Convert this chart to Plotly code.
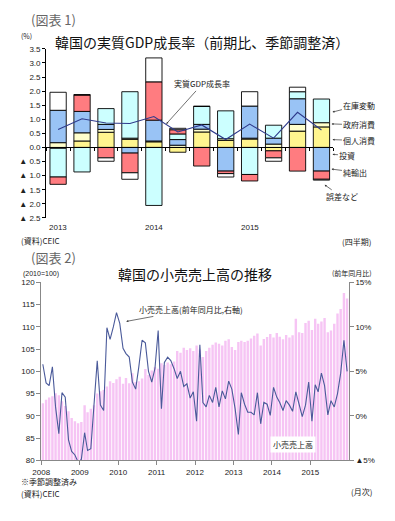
import plotly.graph_objects as go

W, H = 395, 521
def px(x): return x / W
def py(y): return 1 - y / H

JP = "Noto Sans CJK JP"
NUM = "Liberation Sans, Noto Sans CJK JP"

# ---------------- Chart 1 data (quarterly contributions, %) ----------------
quarters = ["2013Q1", "2013Q2", "2013Q3", "2013Q4", "2014Q1", "2014Q2",
            "2014Q3", "2014Q4", "2015Q1", "2015Q2", "2015Q3", "2015Q4"]
year_labels = ["2013", "2014", "2015"]
consumption = [-0.03, 0.23, 0.54, 0.29, 0.20, -0.17, 0.55, 0.25, 0.30, -0.12, 0.58, 0.73]
government  = [0.17, 0.29, 0.10, 0.04, 0.03, 0.08, 0.10, 0.06, 0.03, 0.12, 0.24, 0.15]
investment  = [1.15, 0.76, 0.18, -0.20, 0.74, 0.20, 0.17, -0.84, 1.14, 0.21, 0.91, -0.84]
inventory   = [-1.02, -0.87, 0.56, 1.65, -2.06, 0.20, 0.64, 0.99, -0.96, 0.46, 0.25, 0.84]
net_exports = [-0.26, 0.58, -0.37, -0.70, 1.36, 0.15, -0.66, -0.09, -0.23, -0.25, -0.84, -0.29]
errors      = [0.64, 0.02, -0.12, -0.23, 0.85, 0.05, 0.00, -0.12, 0.51, -0.12, 0.16, -0.03]
gdp_growth  = [0.64, 1.02, 0.87, 0.85, 1.10, 0.55, 0.80, 0.28, 0.83, 0.33, 1.25, 0.62]

y1_ticks = [-2.5, -2.0, -1.5, -1.0, -0.5, 0.0, 0.5, 1.0, 1.5, 2.0, 2.5, 3.0, 3.5]
y1_text = ["▲ 2.5", "▲ 2.0", "▲ 1.5", "▲ 1.0", "▲ 0.5", "0.0", "0.5", "1.0",
           "1.5", "2.0", "2.5", "3.0", "3.5"]

# ---------------- Chart 2 data (monthly) ----------------
retail_index = [
    92.8, 93.6, 94.1, 94.4, 95.1, 94.6, 93.3, 92.2, 91.0, 89.5, 88.8, 88.3,
    88.6, 92.4, 90.8, 91.6, 92.4, 95.0, 95.5, 95.8, 96.6, 97.8, 97.4, 98.2,
    98.8, 97.2, 98.5, 97.3, 99.6, 97.6, 97.8, 98.4, 100.5, 99.2, 100.2, 101.0,
    100.6, 101.8, 101.4, 102.0, 101.6, 102.2, 104.6, 104.2, 105.3, 104.8, 105.2, 104.6,
    105.8, 104.9, 103.2, 104.6, 105.3, 106.0, 106.5, 106.2, 105.8, 106.9, 107.2, 105.5,
    104.8, 106.6, 106.9, 106.6, 106.9, 107.4, 108.0, 108.5, 105.8, 107.3, 107.7, 108.4,
    107.6, 108.6, 107.8, 107.2, 108.2, 107.6, 108.1, 111.8, 108.8, 108.6, 110.9, 111.4,
    109.3, 111.8, 110.7, 111.2, 112.0, 108.8, 109.2, 110.7, 113.0, 114.0, 117.6, 116.4]
retail_yoy = [
    5.8, 3.7, 3.4, 5.5, 1.0, -2.0, 2.6, 2.1, -2.7, -4.0, -4.4, -5.2,
    -4.9, -1.9, -3.9, -3.7, 1.2, 6.2, 1.2, 0.6, 9.9, 8.6, 10.0, 11.6,
    10.4, 7.6, 7.0, 6.6, 3.8, 3.0, 5.5, 8.5, 8.2, 5.0, 3.8, 5.3,
    9.6, 0.8, 6.0, 6.6, 6.2, 5.3, 4.2, 5.0, 3.3, 3.6, 2.0, 2.7,
    -0.6, 8.0, 1.5, 1.0, 2.3, 1.5, 3.2, 1.0, 2.8, 1.9, 3.9, 3.0,
    0.8, -2.1, 2.6, 1.3, 0.4, 0.4, 0.1, 2.6, -0.9, 1.5, 1.3, 0.05,
    3.2, 2.1, 1.5, 0.6, 1.7, 1.2, 0.5, 2.7, 1.3, -0.1, 1.2, 3.8,
    -0.6, 3.5, 2.7, 4.8, 3.4, 0.1, 1.7, 1.0, 2.5, 4.8, 8.5, 5.0]
months = [f"{2008 + i // 12}-{i % 12 + 1:02d}-16" for i in range(96)]
years2 = [str(y) for y in range(2008, 2016)]
y2_ticks = [80, 85, 90, 95, 100, 105, 110, 115, 120]
y3_ticks = [-5, 0, 5, 10, 15]
y3_text = ["▲5%", "0%", "5%", "10%", "15%"]

fig = go.Figure()

# ---------------- Chart 1 traces ----------------
xq = list(range(len(quarters)))
series = [
    ("個人消費", consumption, "#FFF58F"),
    ("政府消費", government, "#FFFFCC"),
    ("投資", investment, "#99C3F5"),
    ("在庫変動", inventory, "#CCFFFF"),
    ("純輸出", net_exports, "#FF7C80"),
    ("誤差など", errors, "#FFFFFF"),
]
for name, vals, col in series:
    fig.add_trace(go.Bar(x=xq, y=vals, name=name, width=0.68,
                         marker=dict(color=col, line=dict(color="#000000", width=0.9)),
                         xaxis="x", yaxis="y", showlegend=False))
fig.add_trace(go.Scatter(x=xq, y=gdp_growth, mode="lines", name="実質GDP成長率",
                         line=dict(color="#2E3A8C", width=1.1),
                         xaxis="x", yaxis="y", showlegend=False))

# ---------------- Chart 2 traces ----------------
month_ms = 30.44 * 86400000
fig.add_trace(go.Bar(x=months, y=retail_index, name="小売売上高", width=0.75 * month_ms,
                     base=0, marker=dict(color="#F6C4F4", line=dict(width=0)),
                     xaxis="x2", yaxis="y2", showlegend=False))
fig.add_trace(go.Scatter(x=months, y=retail_yoy, mode="lines", name="小売売上高(前年同月比,右軸)",
                         line=dict(color="#4A5A9A", width=1.1),
                         xaxis="x2", yaxis="y3", showlegend=False))

zero_pos = py(146)
fig.update_layout(
    width=W, height=H, autosize=False,
    margin=dict(l=0, r=0, t=0, b=0),
    paper_bgcolor="white", plot_bgcolor="rgba(0,0,0,0)",
    barmode="relative", showlegend=False,
    xaxis=dict(domain=[px(38), px(332)], range=[-0.5, 11.5],
               anchor="free", position=zero_pos,
               showline=True, linecolor="#000", linewidth=1,
               ticks="outside", ticklen=3, tickcolor="#000",
               tickvals=[i + 0.5 for i in range(-1, 12)], showticklabels=False,
               showgrid=False, zeroline=False, fixedrange=True),
    yaxis=dict(domain=[py(217.6), py(45.7)], range=[-2.5, 3.5], anchor="x",
               showline=True, linecolor="#000", linewidth=1,
               ticks="outside", ticklen=3, tickcolor="#000",
               tickvals=y1_ticks, ticktext=y1_text,
               tickfont=dict(family=NUM, size=8, color="#222"),
               showgrid=False, zeroline=False),
    xaxis2=dict(domain=[px(33), px(347.7)], range=["2008-01-01", "2016-01-01"],
                anchor="y2", type="date",
                tickvals=[f"{y}-01-01" for y in range(2008, 2016)], ticktext=years2,
                showline=True, linecolor="#888", linewidth=1,
                ticks="outside", ticklen=4, tickcolor="#888",
                tickfont=dict(family=NUM, size=8, color="#222"),
                showgrid=False, zeroline=False),
    yaxis2=dict(domain=[py(464.3), py(283.3)], range=[80, 120], anchor="x2",
                tickvals=y2_ticks,
                showline=True, linecolor="#888", linewidth=1,
                ticks="outside", ticklen=4, tickcolor="#888",
                tickfont=dict(family=NUM, size=8, color="#222"),
                showgrid=False, zeroline=False),
    yaxis3=dict(range=[-5, 15], anchor="x2", overlaying="y2", side="right",
                tickvals=y3_ticks, ticktext=y3_text,
                showline=True, linecolor="#888", linewidth=1,
                ticks="outside", ticklen=4, tickcolor="#888",
                tickfont=dict(family=NUM, size=8, color="#222"),
                showgrid=False, zeroline=False),
)

ann = []
def text(x, y, s, size=8, color="#222", xanchor="center", family=JP):
    ann.append(dict(x=px(x), y=py(y), xref="paper", yref="paper", text=s,
                    showarrow=False, xanchor=xanchor, yanchor="middle",
                    font=dict(family=family, size=size, color=color)))

def arrow(tx, ty, cx, cy, s, size=8):
    ann.append(dict(x=px(tx), y=py(ty), xref="paper", yref="paper", text=s,
                    showarrow=True, ax=cx - tx, ay=cy - ty,
                    arrowhead=2, arrowsize=0.6, arrowwidth=0.7, arrowcolor="#333",
                    font=dict(family=JP, size=size, color="#222")))

# Chart 1 texts
text(20, 16, "(図表 1)", size=13, color="#666", xanchor="left")
text(197, 39, "韓国の実質GDP成長率（前期比、季節調整済）", size=14, color="#111")
text(18, 33, "(%)", size=7)
for i, yl in enumerate(year_labels):
    ann.append(dict(x=4 * i, y=py(227), xref="x", yref="paper", text=yl,
                    showarrow=False, yanchor="middle",
                    font=dict(family=NUM, size=8, color="#222")))
text(10, 241, "(資料)CEIC", size=8, xanchor="left")
text(372, 242, "(四半期)", size=8, xanchor="right")
arrow(161, 122, 197, 82, "実質GDP成長率")
arrow(331, 110, 358, 103, "在庫変動")
arrow(330, 122, 358, 123, "政府消費")
arrow(331, 138, 358, 139, "個人消費")
arrow(331, 153, 346, 154, "投資")
arrow(330, 168, 354, 171, "純輸出")
arrow(323, 184, 340, 196, "誤差など")

# Chart 2 texts
text(20, 258, "(図表 2)", size=13, color="#666", xanchor="left")
text(190, 275, "韓国の小売売上高の推移", size=14, color="#111")
text(12, 275, "(2010=100)", size=7, xanchor="left", family=NUM)
text(373, 274, "(前年同月比)", size=7, xanchor="right")
arrow(120, 323, 185, 311, "小売売上高(前年同月比,右軸)")
ann.append(dict(x=px(314), y=py(457), xref="paper", yref="paper", text="小売売上高",
                showarrow=False, bgcolor="white", borderpad=2,
                font=dict(family=JP, size=8, color="#222")))
text(10, 486, "※季節調整済み", size=8, xanchor="left")
text(10, 498, "(資料)CEIC", size=8, xanchor="left")
text(373, 496, "(月次)", size=8, xanchor="right")

fig.update_layout(annotations=ann)
fig.write_html("out.html", config={"displayModeBar": False, "staticPlot": True},
               post_script="document.body.style.margin='0';document.body.style.overflow='hidden';")
